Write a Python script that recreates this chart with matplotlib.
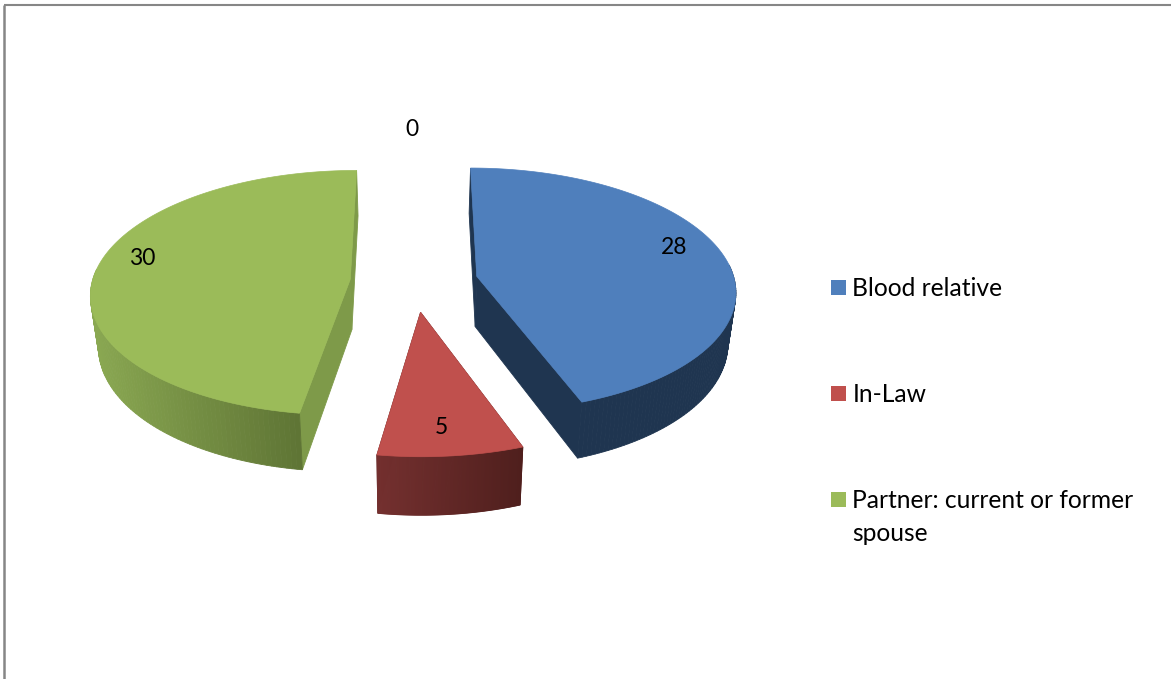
import numpy as np
import matplotlib
matplotlib.use("Agg")
import matplotlib.pyplot as plt
from matplotlib.patches import Polygon, Rectangle
from matplotlib.colors import to_rgb

categories = ["Blood relative", "In-Law", "Partner: current or former\nspouse", ""]
values = [28, 5, 30, 0]
top_colors = ["#4f7fbc", "#c0504d", "#9bbb59"]
side_left = ["#1f3550", "#74302f", "#8aa852"]
side_right = ["#1f3550", "#4f1f1d", "#5f7535"]
radial_colors = ["#1f3550", "#5c2523", "#7e9a49"]

plt.rcParams["font.family"] = ["Lato", "DejaVu Sans"]
W, H = 1171, 679
fig = plt.figure(figsize=(W / 100, H / 100), dpi=100, facecolor="white")
ax = fig.add_axes([0, 0, 1, 1])
ax.set_xlim(0, W)
ax.set_ylim(H, 0)
ax.axis("off")

# Projection of the tilted pie
CX, CY = 414.0, 281.5
R = 258.0
EXPLODE = 64.0
K = 0.11
TILT = 0.47
DEPTH = 50.5
SHRINK = 0.975


def project(theta, radius, ox, oy, bottom=False):
    wx = ox + radius * np.sin(theta)
    wy = oy + radius * np.cos(theta)
    s = 1.0 / (1.0 + K * wy / R)
    x = wx * s
    y = TILT * wy * s
    if bottom:
        return CX + x * SHRINK, CY - y + DEPTH * s
    return CX + x, CY - y


def quad(x, y, color, z):
    ax.add_patch(Polygon(np.column_stack([x, y]), closed=True, facecolor=color,
                         edgecolor=color, linewidth=0.6, zorder=z))


total = sum(values)
edges = np.cumsum([0] + values) / total * 2 * np.pi

for i, color in enumerate(top_colors):
    a0, a1 = edges[i], edges[i + 1]
    mid = (a0 + a1) / 2
    ox, oy = EXPLODE * np.sin(mid), EXPLODE * np.cos(mid)
    z = 2 + i * 0.01
    theta = np.linspace(a0, a1, 160)

    # radial cut faces
    for a in (a0, a1):
        p = [project(a, 0, ox, oy), project(a, R, ox, oy),
             project(a, R, ox, oy, True), project(a, 0, ox, oy, True)]
        quad([q[0] for q in p], [q[1] for q in p], radial_colors[i], z)

    # outer rim, shaded across its visible width
    front = theta[np.cos(theta) < 0.1]
    xs = project(front, R, ox, oy)[0]
    x0, x1 = xs.min(), xs.max()
    cl, cr = np.array(to_rgb(side_left[i])), np.array(to_rgb(side_right[i]))
    for t0, t1 in zip(front[:-1], front[1:]):
        ax_, ay_ = project(t0, R, ox, oy)
        bx_, by_ = project(t1, R, ox, oy)
        cx_, cy_ = project(t1, R, ox, oy, True)
        dx_, dy_ = project(t0, R, ox, oy, True)
        f = (ax_ - x0) / max(x1 - x0, 1)
        quad([ax_, bx_, cx_, dx_], [ay_, by_, cy_, dy_], tuple(cl + (cr - cl) * f), z + 0.001)

    # top face
    tx, ty = project(theta, R, ox, oy)
    ax_, ay_ = project(a0, 0, ox, oy)
    ax.add_patch(Polygon(np.column_stack([np.r_[ax_, tx], np.r_[ay_, ty]]), closed=True,
                         facecolor=color, edgecolor=color, linewidth=0.5, zorder=z + 0.002))

# Data labels
label_pos = [(674, 247.5), (441, 427.5), (142, 258.5), (412, 129.5)]
for v, (lx, ly) in zip(values, label_pos):
    ax.text(lx, ly, str(v), ha="center", va="center", fontsize=16.5, color="black", zorder=5)

# Legend
legend_y = [287.5, 393.5, 499.5]
for name, color, ly in zip(categories, top_colors, legend_y):
    ax.add_patch(Rectangle((831, ly - 7.5), 15, 15, facecolor=color, edgecolor="none", zorder=5))
    ax.text(852.5, ly + 8.5, name.split("\n")[0], ha="left", va="baseline",
            fontsize=17.7, color="black", zorder=5)
    if "\n" in name:
        ax.text(852.5, ly + 8.5 + 33, name.split("\n")[1], ha="left", va="baseline",
                fontsize=17.7, color="black", zorder=5)

# Chart-area border (top and left only are in view)
ax.plot([4.2, W], [4.5, 4.5], color="#868686", lw=1.5, solid_capstyle="butt", zorder=6)
ax.plot([4.2, 4.2], [4.5, H], color="#868686", lw=1.8, solid_capstyle="butt", zorder=6)

fig.savefig("out.png", dpi=100, facecolor="white")
